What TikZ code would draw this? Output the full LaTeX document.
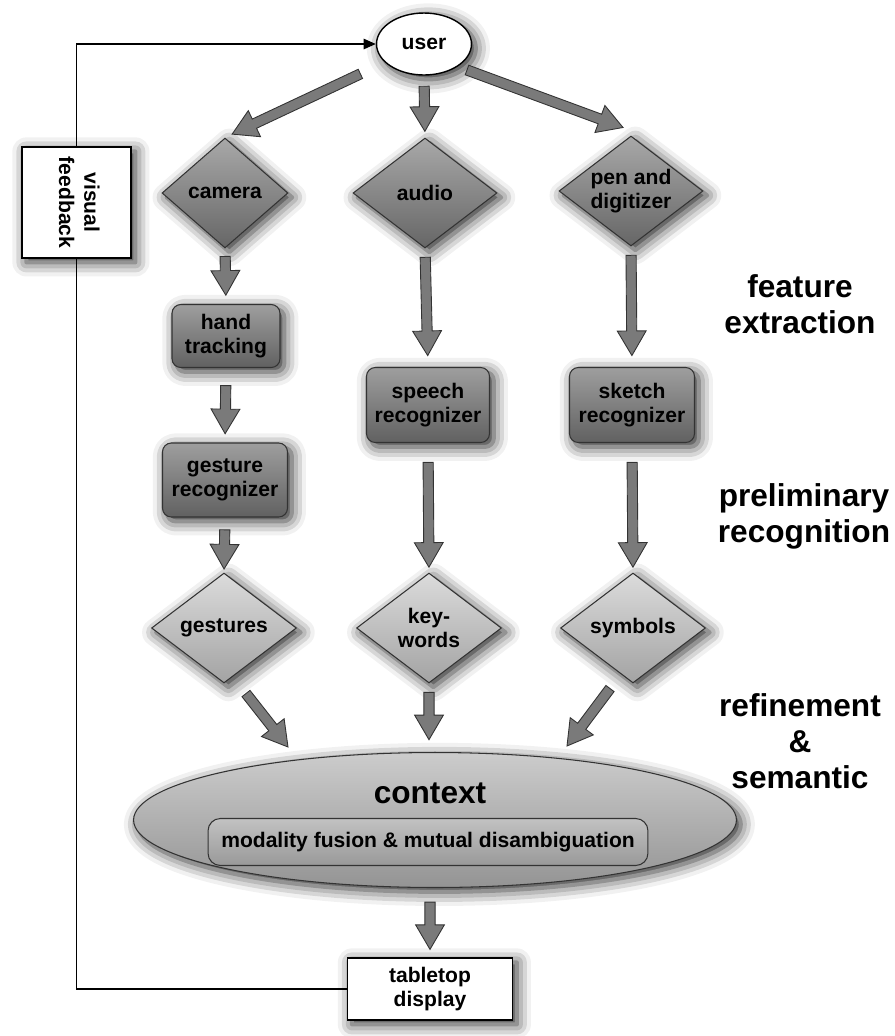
\documentclass[tikz,border=0pt]{standalone}
\usepackage{fontspec}
\setmainfont{Liberation Sans}
\usepackage{graphicx}
\usepackage{tikz}
\usetikzlibrary{calc}
\usetikzlibrary{arrows.meta,positioning,shapes.geometric,shadows.blur}

% block arrow between two points, #3/#4 = gap at tail/tip
\newcommand{\fatarrow}[4]{%
  \coordinate (fa-a) at (#1);
  \coordinate (fa-b) at (#2);
  \coordinate (fa-s) at ($(fa-a)!#3!(fa-b)$);
  \coordinate (fa-e) at ($(fa-b)!#4!(fa-a)$);
  \coordinate (fa-h) at ($(fa-e)!14pt!(fa-s)$);
  \filldraw[fatarrow] ($(fa-s)!2.9pt!90:(fa-e)$) -- ($(fa-h)!2.9pt!-90:(fa-s)$)
    -- ($(fa-h)!8.2pt!-90:(fa-s)$) -- (fa-e) -- ($(fa-h)!8.2pt!90:(fa-s)$)
    -- ($(fa-h)!2.9pt!90:(fa-s)$) -- ($(fa-s)!2.9pt!-90:(fa-e)$) -- cycle;}

\begin{document}
\begin{tikzpicture}[x=0.02cm,y=-0.02cm,>=Triangle, every node/.style={font=\bfseries\fontsize{12}{13.5}\selectfont}]
    \tikzset{halo/.style={blur shadow={shadow blur radius=8pt,shadow xshift=2.5pt,shadow yshift=-2.5pt,shadow opacity=85}}}
    \tikzset{sensor/.style={diamond,shape aspect=1.3,draw=black!80,line width=0.6pt,top color=black!34,bottom color=black!60,halo,inner sep=0pt,minimum height=2.2cm,align=center}}
    \tikzset{stage/.style={rectangle,rounded corners=5pt,draw=black!80,line width=0.6pt,top color=black!38,bottom color=black!62,halo,align=center,inner sep=1pt}}
    \tikzset{result/.style={diamond,shape aspect=1.3,draw=black!80,line width=0.6pt,top color=black!14,bottom color=black!36,halo,inner sep=0pt,minimum width=2.9cm,minimum height=2.2cm,align=center}}
    \tikzset{plain/.style={rectangle,draw,line width=0.8pt,fill=white,halo,align=center}}
    \tikzset{level/.style={align=center,font=\bfseries\fontsize{18}{20.5}\selectfont}}
    \tikzset{fatarrow/.style={fill=black!52,draw=black!80,line width=0.5pt}}

    \useasboundingbox (0,0) rectangle (895,1036);

    % user and feedback
    \node[draw,ellipse,fill=white,line width=0.8pt,halo,minimum width=1.9cm,minimum height=1.24cm] (user) at (424,44) {user};
    \node[plain,minimum width=2.18cm,minimum height=2.22cm] (visual) at (76.5,202.5) {\rotatebox{-90}{\begin{tabular}{@{}c@{}}visual\\[1pt]feedback\end{tabular}}};
    \node[plain,minimum width=3.3cm,minimum height=1.24cm] (tabletop) at (430,989) {tabletop\\display};

    % input devices
    \node[sensor,minimum width=2.52cm] (camera) at (225,193) {camera};
    \node[sensor,minimum width=2.88cm] (audio) at (425,193) {audio};
    \node[sensor,minimum width=2.88cm] (pen) at (631,191) {pen and\\digitizer};

    % recognizers
    \node[stage,minimum width=2.16cm,minimum height=1.26cm] (hand) at (226,336) {hand\\tracking};
    \node[stage,minimum width=2.5cm,minimum height=1.48cm] (gesture) at (225,480) {gesture\\recognizer};
    \node[stage,minimum width=2.46cm,minimum height=1.5cm] (speech) at (428,405) {speech\\recognizer};
    \node[stage,minimum width=2.5cm,minimum height=1.5cm] (sketch) at (632,405) {sketch\\recognizer};

    % outputs
    \node[result] (gestures) at (224,628) {gestures};
    \node[result] (keywords) at (429,628) {key-\\words};
    \node[result] (symbols) at (633,628) {symbols};

    % context
    \node[ellipse,draw=black!80,line width=0.6pt,top color=black!20,bottom color=black!42,halo,minimum width=12.06cm,minimum height=2.7cm] (ctx) at (435,820) {};
    \node[font=\bfseries\fontsize{18}{20}\selectfont] (ctxname) at (430,793) {context};
    \node[rectangle,rounded corners=7pt,draw=black!80,line width=0.6pt,top color=black!24,bottom color=black!40,minimum width=8.8cm,minimum height=0.94cm] (fusion) at (428,842) {modality fusion \& mutual disambiguation};

    % levels
    \node[level] (feat) at (800,304) {feature\\extraction};
    \node[level] (prelim) at (804,516) {preliminary\\recognition};
    \node[level] (refine) at (800,741) {refinement\\\&\\semantic};

    % feedback loop
    \draw[line width=0.8pt] (tabletop.west) -| (visual.south);
    \draw[line width=0.8pt,-{Triangle[length=7pt,width=6pt]}] (visual.north) |- (user.west);

    % flow
    \fatarrow{user.center}{camera.north}{40pt}{4.5pt}
    \fatarrow{user.south}{audio.north}{6pt}{3.5pt}
    \fatarrow{$(user.center)+(43,26)$}{$(pen.north)+(-8,-8)$}{0pt}{0pt}
    \fatarrow{camera.south}{hand.north}{4.5pt}{5pt}
    \fatarrow{hand.south}{gesture.north}{10pt}{5pt}
    \fatarrow{gesture.south}{gestures.north}{7pt}{2pt}
    \fatarrow{audio.south}{speech.north}{5pt}{6.5pt}
    \fatarrow{pen.south}{sketch.north}{5pt}{6.5pt}
    \fatarrow{speech.south}{keywords.north}{11pt}{3pt}
    \fatarrow{sketch.south}{symbols.north}{11pt}{3pt}
    \fatarrow{$(gestures.south)+(22,10)$}{$(ctx.north)+(-147,-5)$}{0pt}{0pt}
    \fatarrow{keywords.south}{keywords.south |- ctx.north}{5pt}{7pt}
    \fatarrow{$(symbols.south)+(-23,5)$}{$(ctx.north)+(132,-6)$}{0pt}{0pt}
    \fatarrow{tabletop.north |- ctx.south}{tabletop.north}{8pt}{4.5pt}
  \end{tikzpicture}
\end{document}
